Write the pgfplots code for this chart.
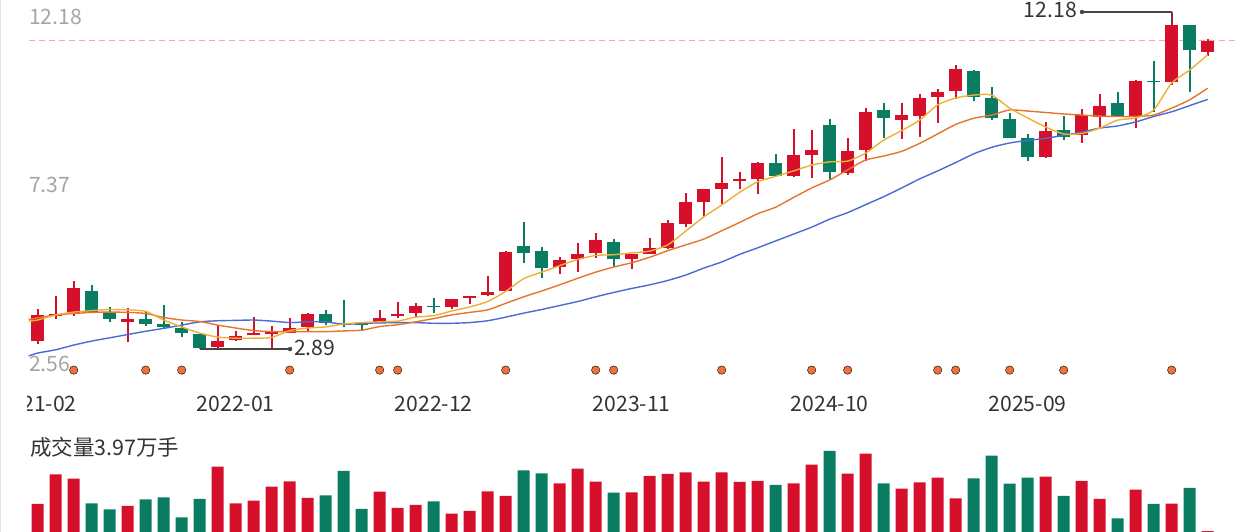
\documentclass[border=0pt]{standalone}
\usepackage{pgfplots}
\pgfplotsset{compat=1.18}
\usepackage{pgfplotstable}
\usepackage{fontspec}
\setmainfont{Noto Sans CJK SC}

\definecolor{kred}{RGB}{214,16,42}
\definecolor{kgreen}{RGB}{10,124,98}
\definecolor{ma5}{RGB}{238,176,52}
\definecolor{ma10}{RGB}{230,116,42}
\definecolor{ma20}{RGB}{72,108,210}
\definecolor{kdash}{RGB}{236,170,170}
\definecolor{kdot}{RGB}{240,112,62}
\definecolor{kannot}{RGB}{70,70,70}
\definecolor{kgray}{RGB}{165,165,165}
\definecolor{kdark}{RGB}{51,51,51}
\newcommand\lblfont{\fontsize{21.2}{25}\selectfont}

% i open high low close volume(10k lots)
\pgfplotstableread{
i o h l c v
0 3.12 3.99 3.03 3.83 140
1 3.81 4.34 3.72 3.86 288.5
2 3.85 4.77 3.80 4.56 266.5
5 3.64 4.02 3.09 3.71 130
10 2.95 3.55 2.92 3.10 326.5
11 3.13 3.38 3.11 3.25 143.5
12 3.27 3.77 3.27 3.34 156.5
13 3.31 3.53 2.90 3.36 226.5
14 3.32 3.75 3.32 3.48 253.5
15 3.49 3.88 3.35 3.87 170
19 3.60 3.97 3.60 3.75 201.5
20 3.79 4.20 3.75 3.86 120
21 3.89 4.17 3.77 4.09 135
23 4.06 4.28 3.99 4.27 91.5
24 4.31 4.36 4.13 4.35 105
25 4.38 4.90 4.35 4.47 203.5
26 4.49 5.59 4.49 5.57 180
29 5.14 5.42 4.96 5.34 243.5
30 5.36 5.81 5.01 5.51 316.5
31 5.53 6.08 5.39 5.90 251.5
33 5.36 5.52 5.11 5.51 198.5
34 5.52 5.94 5.51 5.67 280
35 5.67 6.45 5.65 6.36 290
36 6.34 7.18 6.25 6.94 298.5
37 6.94 7.30 6.53 7.29 251.5
38 7.31 8.18 6.88 7.48 298.5
39 7.51 7.76 7.29 7.59 250
40 7.59 8.04 7.17 8.01 255
42 7.67 8.95 7.63 8.23 243.5
43 8.24 8.93 7.60 8.37 336.5
45 7.75 8.70 7.69 8.36 291.5
46 8.38 9.53 8.07 9.43 391.5
48 9.21 9.66 8.68 9.33 216.5
49 9.31 9.92 8.74 9.82 248.5
50 9.85 10.05 9.11 9.98 271.5
51 10.00 10.72 9.77 10.60 168.5
56 8.18 9.14 8.15 8.90 276.5
58 8.79 9.51 8.56 9.33 255
59 9.28 9.92 8.98 9.59 165
61 9.28 10.31 8.99 10.29 211.5
63 10.26 12.18 10.17 11.82 141.5
65 11.07 11.44 10.98 11.39 3.97
}\redtab

\pgfplotstableread{
i o h l c v
3 4.50 4.66 3.88 3.92 143.5
4 3.89 4.04 3.63 3.73 113.5
6 3.72 3.92 3.53 3.57 163.5
7 3.58 4.10 3.45 3.51 173.5
8 3.48 3.63 3.23 3.32 73.5
9 3.30 3.30 2.89 2.92 165
16 3.85 3.97 3.55 3.60 183.5
17 3.60 4.24 3.51 3.55 305
18 3.60 3.60 3.40 3.57 115
22 4.09 4.29 3.88 4.05 153.5
27 5.73 6.38 5.25 5.55 308.5
28 5.59 5.71 4.84 5.12 293.5
32 5.83 5.92 5.16 5.38 196.5
41 8.02 8.26 7.62 7.67 235
44 9.07 9.24 7.55 7.76 405
47 9.47 9.66 8.72 9.26 243.5
52 10.55 10.58 9.73 9.83 268.5
53 9.82 10.11 9.19 9.25 381.5
54 9.23 9.39 8.70 8.72 241.5
55 8.70 8.82 8.06 8.19 271.5
57 8.93 9.32 8.65 8.74 180
60 9.66 9.98 9.32 9.32 68.5
62 10.28 10.83 9.42 10.25 140
64 11.82 11.83 9.98 11.13 220
}\greentab

\pgfplotstableread{
x ma5 ma10 ma20
-0.5 3.66 3.70 2.70
0 3.69 3.75 2.78
1 3.83 3.83 2.87
2 3.91 3.87 3.00
3 3.95 3.90 3.11
4 3.98 3.91 3.20
5 3.97 3.90 3.29
6 3.93 3.87 3.38
7 3.69 3.76 3.46
8 3.50 3.69 3.55
9 3.33 3.65 3.64
10 3.22 3.55 3.67
11 3.19 3.47 3.68
12 3.19 3.40 3.69
13 3.21 3.37 3.66
14 3.40 3.37 3.62
15 3.47 3.37 3.64
16 3.50 3.37 3.64
17 3.58 3.39 3.57
18 3.62 3.41 3.60
19 3.64 3.51 3.61
20 3.66 3.56 3.62
21 3.77 3.64 3.62
22 3.81 3.73 3.60
23 3.94 3.83 3.60
24 4.05 3.90 3.62
25 4.20 3.97 3.67
26 4.48 4.15 3.77
27 4.83 4.33 3.88
28 5.01 4.49 3.98
29 5.19 4.66 4.09
30 5.36 4.84 4.20
31 5.47 5.01 4.33
32 5.49 5.15 4.45
33 5.54 5.27 4.56
34 5.59 5.42 4.66
35 5.76 5.60 4.78
36 6.14 5.76 4.93
37 6.53 5.92 5.12
38 6.86 6.15 5.29
39 7.21 6.38 5.50
40 7.50 6.62 5.68
41 7.65 6.80 5.87
42 7.80 7.07 6.06
43 7.96 7.33 6.25
44 8.05 7.55 6.47
45 8.07 7.83 6.65
46 8.29 8.10 6.87
47 8.65 8.21 7.09
48 8.91 8.34 7.33
49 9.20 8.56 7.58
50 9.62 8.82 7.80
51 9.81 9.08 8.03
52 9.89 9.25 8.27
53 9.89 9.34 8.45
54 9.53 9.48 8.57
55 9.26 9.45 8.64
56 9.01 9.41 8.70
57 8.82 9.37 8.78
58 8.83 9.34 8.87
59 8.98 9.31 8.98
60 9.20 9.30 9.04
61 9.26 9.30 9.15
62 9.48 9.34 9.30
63 10.22 9.53 9.43
64 10.58 9.76 9.60
65 11.00 10.08 9.77
}\matab

\pgfplotstableread{
x y
2 2.31
6 2.31
8 2.31
14 2.31
19 2.31
20 2.31
26 2.31
31 2.31
32 2.31
38 2.31
43 2.31
45 2.31
50 2.31
51 2.31
54 2.31
57 2.31
63 2.31
}\dottab

\begin{document}
\begin{tikzpicture}
\path[use as bounding box] (0pt,0pt) rectangle (1252pt,532pt);

% price scale labels (drawn first, so the dots overlap them)
\node[anchor=west, inner sep=0pt, text=kgray, font=\lblfont] at (29pt,515pt) {12.18};
\node[anchor=west, inner sep=0pt, text=kgray, font=\lblfont] at (29pt,347.5pt) {7.37};
\node[anchor=west, inner sep=0pt, text=kgray, font=\lblfont] at (29pt,168pt) {2.56};

% price panel
\begin{axis}[
  at={(25.1pt,150.65pt)}, anchor=south west,
  scale only axis, width=1209.6pt, height=377.32pt,
  xmin=-0.7, xmax=66.5, ymin=2.0, ymax=12.4,
  clip=false,
  axis line style={draw=none}, tick style={draw=none}, major tick length=0pt,
  ytick=\empty,
  xtick={0,11,22,33,44,55},
  xticklabels={2021-02,2022-01,2022-12,2023-11,2024-10,2025-09},
  xticklabel style={anchor=center, yshift=-22.65pt, font=\lblfont, text=kdark},
]
\addplot[kdash, line width=1pt, dash pattern=on 6pt off 4pt] coordinates {(-0.5,11.39) (66.5,11.39)};
% wicks
\addplot[draw=none, mark=none, error bars/.cd, y dir=both, y explicit, error mark=none,
  error bar style={draw=kred, line width=2pt}]
  table[x=i, y expr=(\thisrow{h}+\thisrow{l})/2, y error expr=(\thisrow{h}-\thisrow{l})/2] {\redtab};
\addplot[draw=none, mark=none, error bars/.cd, y dir=both, y explicit, error mark=none,
  error bar style={draw=kgreen, line width=2pt}]
  table[x=i, y expr=(\thisrow{h}+\thisrow{l})/2, y error expr=(\thisrow{h}-\thisrow{l})/2] {\greentab};
% bodies
\addplot[draw=none, mark=none, error bars/.cd, y dir=both, y explicit, error mark=none,
  error bar style={draw=kred, line width=12.4pt}]
  table[x=i, y expr=(\thisrow{o}+\thisrow{c})/2, y error expr=(\thisrow{c}-\thisrow{o})/2] {\redtab};
\addplot[draw=none, mark=none, error bars/.cd, y dir=both, y explicit, error mark=none,
  error bar style={draw=kgreen, line width=12.4pt}]
  table[x=i, y expr=(\thisrow{o}+\thisrow{c})/2, y error expr=(\thisrow{o}-\thisrow{c})/2] {\greentab};
% moving averages
\addplot[ma20, line width=1.4pt, smooth, tension=0.4, mark=none] table[x=x, y=ma20] {\matab};
\addplot[ma10, line width=1.4pt, smooth, tension=0.4, mark=none] table[x=x, y=ma10] {\matab};
\addplot[ma5, line width=1.4pt, smooth, tension=0.4, mark=none] table[x=x, y=ma5] {\matab};
% max / min annotations
\addplot[kannot, line width=1.3pt, mark=none] coordinates {(63,11.82) (63,12.18) (58.02,12.18)};
\addplot[kannot, only marks, mark=*, mark size=2pt] coordinates {(58.02,12.18)};
\addplot[kannot, line width=1.3pt, mark=none] coordinates {(9,2.89) (14.02,2.89)};
\addplot[kannot, only marks, mark=*, mark size=2pt] coordinates {(14.02,2.89)};
\node[anchor=east, inner sep=0pt, yshift=2pt, text=kdark, font=\lblfont] at (axis cs:57.74,12.18) {12.18};
\node[anchor=west, inner sep=0pt, yshift=1.5pt, text=kdark, font=\lblfont] at (axis cs:14.24,2.89) {2.89};
% event dots
\addplot[only marks, mark=*, mark size=4.2pt, mark options={fill=kdot, draw=none}] table[x=x, y=y] {\dottab};
\end{axis}

% volume panel
\begin{axis}[
  at={(25.1pt,0pt)}, anchor=south west,
  scale only axis, width=1209.6pt, height=90pt,
  xmin=-0.7, xmax=66.5, ymin=0, ymax=450,
  hide axis,
]
\addplot[ybar, bar width=12pt, bar shift=0pt, fill=kred, draw=none] table[x=i, y=v] {\redtab};
\addplot[ybar, bar width=12pt, bar shift=0pt, fill=kgreen, draw=none] table[x=i, y=v] {\greentab};
\end{axis}

\node[anchor=west, inner sep=0pt, text=kdark, font=\fontsize{21.5}{25}\selectfont] at (30pt,85pt) {成交量3.97万手};

% the chart clips its x labels at its left edge
\fill[white] (-2pt,110pt) rectangle (26.8pt,146pt);
\draw[black!10, line width=1pt] (0.5pt,0pt) -- (0.5pt,532pt);
\end{tikzpicture}
\end{document}
